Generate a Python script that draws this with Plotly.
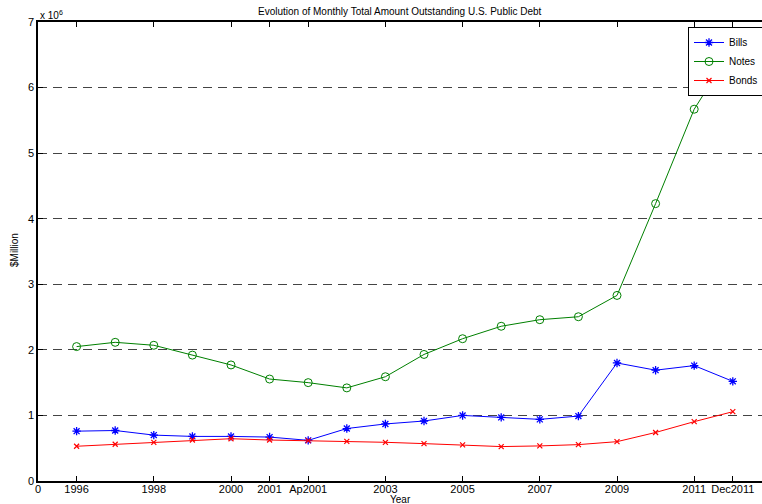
import plotly.graph_objects as go

# x positions are sequential observation indices
x_idx = list(range(1, 19))

bills = [0.76, 0.77, 0.70, 0.68, 0.68, 0.67, 0.62, 0.80, 0.87,
         0.915, 1.00, 0.97, 0.94, 0.99, 1.80, 1.69, 1.76, 1.52]
notes = [2.05, 2.115, 2.07, 1.92, 1.77, 1.555, 1.50, 1.42, 1.59,
         1.93, 2.17, 2.36, 2.46, 2.505, 2.83, 4.23, 5.67, 6.60]
bonds = [0.53, 0.56, 0.59, 0.625, 0.645, 0.625, 0.615, 0.605, 0.59,
         0.57, 0.55, 0.525, 0.535, 0.555, 0.60, 0.74, 0.905, 1.057]

tick_pos = [0, 1, 3, 5, 6, 7, 9, 11, 13, 15, 17, 18]
tick_text = ["0", "1996", "1998", "2000", "2001", "Ap2001", "2003",
             "2005", "2007", "2009", "2011", "Dec2011"]
y_ticks = [0, 1, 2, 3, 4, 5, 6, 7]

FONT = "Liberation Sans, Arial, Helvetica, sans-serif"

L, T, B = 38, 22, 504 - 481
PW = 762 - L
PH = 504 - T - B

fig = go.Figure()
fig.add_trace(go.Scatter(x=x_idx, y=bills, name="Bills", mode="lines+markers",
                         line=dict(color="#0000ff", width=1),
                         marker=dict(symbol="asterisk-open", size=7,
                                     line=dict(color="#0000ff", width=1.3))))
fig.add_trace(go.Scatter(x=x_idx, y=notes, name="Notes", mode="lines+markers",
                         line=dict(color="#008000", width=1),
                         marker=dict(symbol="circle-open", size=8,
                                     line=dict(color="#008000", width=1))))
fig.add_trace(go.Scatter(x=x_idx, y=bonds, name="Bonds", mode="lines+markers",
                         line=dict(color="#ff0000", width=1),
                         marker=dict(symbol="x-thin-open", size=5,
                                     line=dict(color="#ff0000", width=1.2))))

fig.update_layout(
    width=762, height=504,
    margin=dict(l=L, r=0, t=T, b=B, autoexpand=False),
    paper_bgcolor="white", plot_bgcolor="white",
    font=dict(family=FONT, size=11, color="black"),
    showlegend=True,
    legend=dict(x=(688 - 38) / PW, y=1 - 5 / PH, xanchor="left", yanchor="top",
                bgcolor="white", bordercolor="black", borderwidth=1,
                font=dict(size=10), tracegroupgap=0),
    xaxis=dict(range=[0, PW / 38.6], tickmode="array", tickvals=tick_pos,
               ticktext=tick_text, ticks="inside", ticklen=5, tickcolor="black",
               showline=True, linecolor="black", linewidth=1.5, mirror="ticks",
               showgrid=False, zeroline=False, tickfont=dict(size=11),
               ticklabelstandoff=-3),
    yaxis=dict(range=[0, 7], tickmode="array", tickvals=y_ticks,
               ticks="inside", ticklen=5, tickcolor="black",
               showline=True, linecolor="black", linewidth=1.5, mirror=True,
               showgrid=True, gridcolor="#444444", gridwidth=1, griddash="9px,6px",
               zeroline=False, tickfont=dict(size=11)),
    annotations=[
        dict(text="Evolution of Monthly Total Amount Outstanding U.S. Public Debt",
             xref="paper", yref="paper", x=(400 - 38) / PW, y=(481 - 11) / PH,
             xanchor="center", yanchor="middle", showarrow=False,
             font=dict(size=10)),
        dict(text="x 10<sup>6</sup>", xref="paper", yref="paper",
             x=0, y=(481 - 15) / PH, xanchor="left", yanchor="middle",
             showarrow=False, font=dict(size=10)),
        dict(text="$Million", xref="paper", yref="paper",
             x=(14 - 38) / PW, y=(481 - 250) / PH, xanchor="center",
             yanchor="middle", textangle=-90, showarrow=False,
             font=dict(size=10)),
        dict(text="Year", xref="paper", yref="paper",
             x=(400 - 38) / PW, y=(481 - 499) / PH, xanchor="center",
             yanchor="middle", showarrow=False, font=dict(size=10)),
    ],
)

fig.write_html("out.html", config={"displayModeBar": False},
               post_script="document.body.style.margin='0px';")
